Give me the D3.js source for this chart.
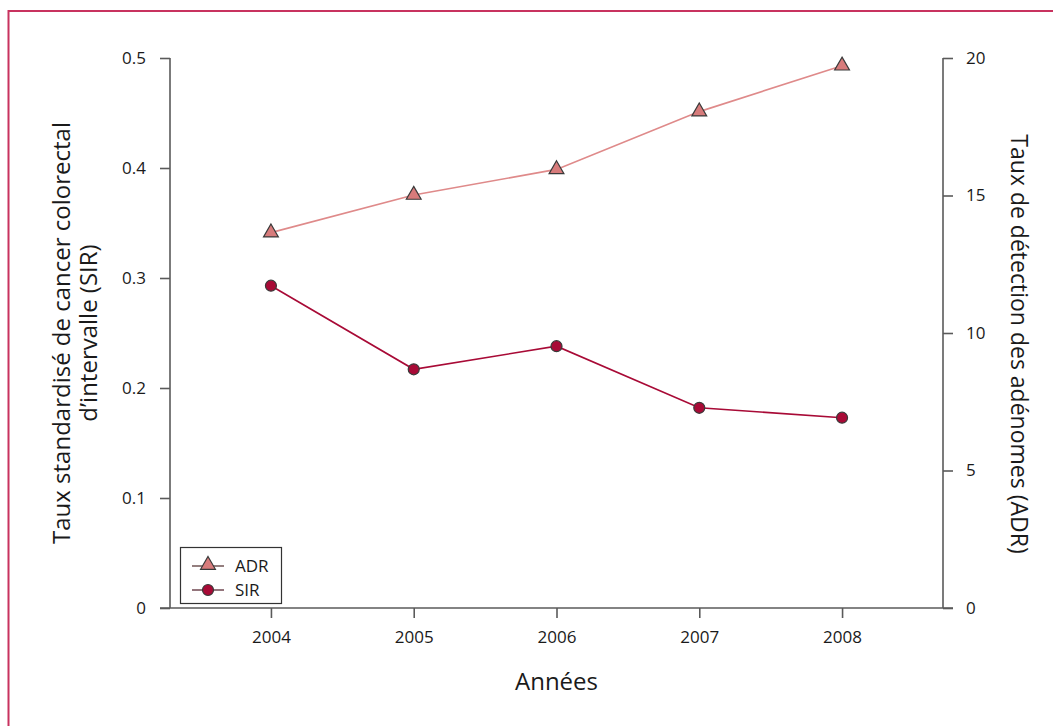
<!DOCTYPE html>
<html>
<head>
<meta charset="utf-8">
<script src="https://cdn.jsdelivr.net/npm/d3@7/dist/d3.min.js"></script>
<style>
  html, body { margin: 0; padding: 0; background: #fff; }
  svg { display: block; }
  text { font-family: "Open Sans", "Noto Sans", sans-serif; fill: #1a1a1a; }
</style>
</head>
<body>
<svg id="chart" width="1053" height="726"></svg>
<script>
// Years and the two indicators
const years = [2004, 2005, 2006, 2007, 2008];
const sirValues = [0.293, 0.217, 0.238, 0.182, 0.173];   // left axis
const adrValues = [13.65, 15.02, 15.95, 18.05, 19.72];   // right axis
const sirTicks = [0, 0.1, 0.2, 0.3, 0.4, 0.5];
const adrTicks = [0, 5, 10, 15, 20];
const legendLabels = ["ADR", "SIR"];

const W = 1053, H = 726;
const svg = d3.select("#chart");

const plotL = 170, plotR = 943, plotT = 58, plotB = 608;
const axisColor = "#5a5a5a";
const sirColor = "#a80a36";
const adrLine = "#df8a8a";
const adrFill = "#d77b7b";
const markerStroke = "#3a3a3a";

// frame
svg.append("path")
  .attr("d", `M8.5,${H} L8.5,11 L${W},11`)
  .attr("fill", "none")
  .attr("stroke", "#c8325f")
  .attr("stroke-width", 2);

const pad = 0.707;
const x = d3.scaleLinear().domain([years[0] - pad, years[years.length - 1] + pad]).range([plotL, plotR]);
const ySir = d3.scaleLinear().domain([0, 0.5]).range([plotB, plotT]);
const yAdr = d3.scaleLinear().domain([0, 20]).range([plotB, plotT]);

function styleAxis(g) {
  g.select(".domain").remove();
  g.selectAll(".tick line").attr("stroke", axisColor).attr("stroke-width", 1.6);
  g.selectAll(".tick text")
    .attr("font-size", 17)
    .attr("font-family", '"Open Sans", "Noto Sans", sans-serif')
    .attr("fill", "#1a1a1a");
}

// left axis
svg.append("g").attr("transform", `translate(${plotL},0)`)
  .call(d3.axisLeft(ySir).tickValues(sirTicks).tickSize(10).tickPadding(14)
    .tickFormat(d => d === 0 ? "0" : d3.format(".1f")(d)))
  .call(styleAxis);

// right axis
svg.append("g").attr("transform", `translate(${plotR},0)`)
  .call(d3.axisRight(yAdr).tickValues(adrTicks).tickSize(10).tickPadding(13))
  .call(styleAxis);

// bottom axis
svg.append("g").attr("transform", `translate(0,${plotB})`)
  .call(d3.axisBottom(x).tickValues(years).tickSize(10).tickPadding(13).tickFormat(d3.format("d")))
  .call(styleAxis);

// axis lines
svg.append("line").attr("x1", plotL).attr("x2", plotL).attr("y1", plotT).attr("y2", plotB)
  .attr("stroke", axisColor).attr("stroke-width", 1.6);
svg.append("line").attr("x1", plotR).attr("x2", plotR).attr("y1", plotT).attr("y2", plotB)
  .attr("stroke", axisColor).attr("stroke-width", 1.6);
svg.append("line").attr("x1", plotL - 10).attr("x2", plotR + 10).attr("y1", plotB).attr("y2", plotB)
  .attr("stroke", axisColor).attr("stroke-width", 1.6);

// axis titles
svg.append("text").attr("x", (plotL + plotR) / 2).attr("y", 690)
  .attr("text-anchor", "middle").attr("font-size", 24).text("Années");

const lt = svg.append("text").attr("transform", `translate(70,333) rotate(-90)`)
  .attr("text-anchor", "middle").attr("font-size", 24);
lt.append("tspan").attr("x", 0).attr("dy", 0).text("Taux standardisé de cancer colorectal");
lt.append("tspan").attr("x", 0).attr("dy", 27).text("d\u2019intervalle (SIR)");

svg.append("text").attr("transform", `translate(1011,344) rotate(90)`)
  .attr("text-anchor", "middle").attr("font-size", 23)
  .text("Taux de détection des adénomes (ADR)");

const tri = d3.symbol().type(d3.symbolTriangle).size(95);

// ADR series
const adrData = years.map((yr, i) => ({ yr, v: adrValues[i] }));
svg.append("path").datum(adrData)
  .attr("fill", "none").attr("stroke", adrLine).attr("stroke-width", 1.6)
  .attr("d", d3.line().x(d => x(d.yr)).y(d => yAdr(d.v)));
svg.selectAll(".adr").data(adrData).enter().append("path")
  .attr("class", "adr")
  .attr("transform", d => `translate(${x(d.yr)},${yAdr(d.v)})`)
  .attr("d", tri)
  .attr("fill", adrFill).attr("stroke", markerStroke).attr("stroke-width", 1.2);

// SIR series
const sirData = years.map((yr, i) => ({ yr, v: sirValues[i] }));
svg.append("path").datum(sirData)
  .attr("fill", "none").attr("stroke", sirColor).attr("stroke-width", 1.6)
  .attr("d", d3.line().x(d => x(d.yr)).y(d => ySir(d.v)));
svg.selectAll(".sir").data(sirData).enter().append("circle")
  .attr("class", "sir")
  .attr("cx", d => x(d.yr)).attr("cy", d => ySir(d.v)).attr("r", 5.5)
  .attr("fill", sirColor).attr("stroke", markerStroke).attr("stroke-width", 1.2);

// legend
const lg = svg.append("g").attr("transform", "translate(180,547)");
lg.append("rect").attr("x", 0.5).attr("y", 0.5).attr("width", 101).attr("height", 56)
  .attr("fill", "#fff").attr("stroke", "#333").attr("stroke-width", 1.2);
const items = [
  { label: legendLabels[0], kind: "tri" },
  { label: legendLabels[1], kind: "circle" }
];
items.forEach((it, i) => {
  const cy = 19 + i * 24;
  lg.append("line").attr("x1", 12).attr("x2", 44).attr("y1", cy).attr("y2", cy)
    .attr("stroke", i === 0 ? "#5a3a3a" : "#5a2a35").attr("stroke-width", 1.3);
  if (it.kind === "tri") {
    lg.append("path").attr("transform", `translate(28,${cy - 1})`).attr("d", tri)
      .attr("fill", adrFill).attr("stroke", markerStroke).attr("stroke-width", 1.2);
  } else {
    lg.append("circle").attr("cx", 28).attr("cy", cy).attr("r", 5.5)
      .attr("fill", sirColor).attr("stroke", markerStroke).attr("stroke-width", 1.2);
  }
  lg.append("text").attr("x", 55).attr("y", cy + 6).attr("font-size", 17).text(it.label);
});
</script>
</body>
</html>
